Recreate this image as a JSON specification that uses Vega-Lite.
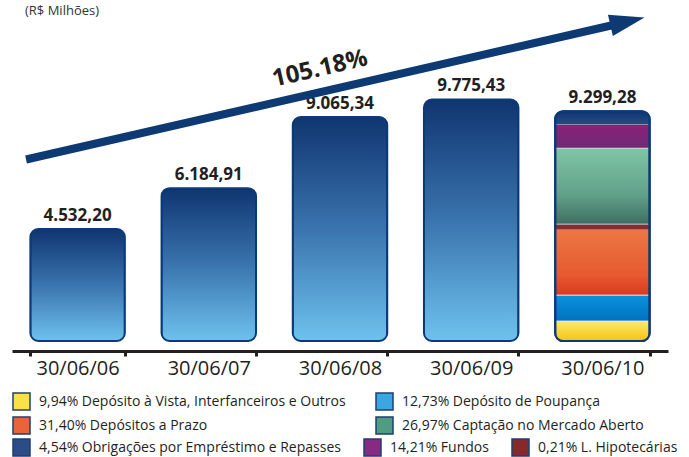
{
  "$schema": "https://vega.github.io/schema/vega-lite/v6.json",
  "width": 656,
  "height": 336,
  "autosize": {"type": "none"},
  "padding": {"left": 12, "top": 5, "right": 21, "bottom": 116},
  "background": "white",
  "config": {
    "view": {"stroke": null},
    "font": "Open Sans",
    "legend": {
      "orient": "none",
      "title": null,
      "labelFont": "Open Sans",
      "labelFontSize": 14,
      "labelColor": "#231f20",
      "labelLimit": 400,
      "symbolType": "square",
      "symbolSize": 289,
      "symbolStrokeColor": "#1f3f70",
      "symbolStrokeWidth": 1.5,
      "symbolOpacity": 1,
      "labelOffset": 8,
      "rowPadding": 1,
      "padding": 0
    }
  },
  "title": {
    "text": "(R$ Milhões)",
    "anchor": "start",
    "frame": "group",
    "orient": "top",
    "baseline": "alphabetic",
    "offset": 0,
    "dy": 23,
    "dx": 13,
    "fontSize": 13,
    "fontWeight": "normal",
    "font": "Open Sans",
    "color": "#333333"
  },
  "datasets": {
    "totals": [
      {"date": "30/06/06", "value": 4532.20, "label": "4.532,20"},
      {"date": "30/06/07", "value": 6184.91, "label": "6.184,91"},
      {"date": "30/06/08", "value": 9065.34, "label": "9.065,34"},
      {"date": "30/06/09", "value": 9775.43, "label": "9.775,43"},
      {"date": "30/06/10", "value": 9299.28, "label": "9.299,28"}
    ],
    "segs": [
      {"date": "30/06/10", "cat": "vista", "order": 1, "value": 809},
      {"date": "30/06/10", "cat": "poupanca", "order": 2, "value": 1051},
      {"date": "30/06/10", "cat": "prazo", "order": 3, "value": 2668},
      {"date": "30/06/10", "cat": "hipotecarias", "order": 4, "value": 202},
      {"date": "30/06/10", "cat": "captacao", "order": 5, "value": 3073},
      {"date": "30/06/10", "cat": "fundos", "order": 6, "value": 970},
      {"date": "30/06/10", "cat": "obrigacoes", "order": 7, "value": 526}
    ],
    "arrow": [
      {"x1": 0.107, "y1": 7346, "x2": 4.6, "y2": 12810, "hx": 4.691, "hy": 12932, "tx": 2.348, "ty": 11010, "label": "105.18%"}
    ],
    "legA": [
      {"cat": "9,94% Depósito à Vista, Interfanceiros e Outros"},
      {"cat": "31,40% Depósitos a Prazo"},
      {"cat": "12,73% Depósito de Poupança"},
      {"cat": "26,97% Captação no Mercado Aberto"}
    ],
    "legB": [
      {"cat": "4,54% Obrigações por Empréstimo e Repasses"},
      {"cat": "14,21% Fundos"},
      {"cat": "0,21% L. Hipotecárias"}
    ]
  },
  "resolve": {"scale": {"x": "independent"}, "axis": {"x": "independent"}},
  "layer": [
    {
      "encoding": {
        "x": {
          "field": "date",
          "type": "nominal",
          "sort": null,
          "scale": {"domain": ["30/06/06", "30/06/07", "30/06/08", "30/06/09", "30/06/10"], "paddingInner": 0.28, "paddingOuter": 0.14},
          "axis": {
            "title": null,
            "labelAngle": 0,
            "labelFont": "Open Sans",
            "labelFontSize": 20,
            "labelColor": "#231f20",
            "labelPadding": 2,
            "domainColor": "#231f20",
            "domainWidth": 3,
            "tickColor": "#231f20",
            "tickWidth": 3,
            "tickSize": 5,
            "tickBand": "extent",
            "offset": 10,
            "grid": false
          }
        }
      },
      "layer": [
        {
          "data": {"name": "totals"},
          "mark": {
            "type": "bar",
            "cornerRadius": 8,
            "stroke": "#0b3a78",
            "strokeWidth": 2,
            "fill": {"gradient": "linear", "x1": 0, "y1": 0, "x2": 0, "y2": 1, "stops": [
              {"offset": 0, "color": "#0f3570"},
              {"offset": 0.5, "color": "#3a74ae"},
              {"offset": 1, "color": "#6ec2ee"}
            ]}
          },
          "encoding": {
            "y": {"field": "value", "type": "quantitative", "scale": {"domain": [0, 13600], "nice": false}, "axis": null}
          }
        },
        {
          "data": {"name": "segs"},
          "transform": [
            {"stack": "value", "groupby": ["date"], "sort": [{"field": "order"}], "as": ["v0", "v1"]},
            {"filter": "datum.order == 1"}
          ],
          "mark": {"type": "bar", "cornerRadiusBottomLeft": 8, "cornerRadiusBottomRight": 8, "stroke": "#e8e8e8", "strokeWidth": 0.8,
            "fill": {"gradient": "linear", "x1": 0, "y1": 0, "x2": 0, "y2": 1, "stops": [{"offset": 0, "color": "#fde96c"}, {"offset": 1, "color": "#f6c313"}]}},
          "encoding": {"y": {"field": "v0", "type": "quantitative"}, "y2": {"field": "v1"}}
        },
        {
          "data": {"name": "segs"},
          "transform": [
            {"stack": "value", "groupby": ["date"], "sort": [{"field": "order"}], "as": ["v0", "v1"]},
            {"filter": "datum.order == 2"}
          ],
          "mark": {"type": "bar", "stroke": "#e8e8e8", "strokeWidth": 0.8,
            "fill": {"gradient": "linear", "x1": 0, "y1": 0, "x2": 0, "y2": 1, "stops": [{"offset": 0, "color": "#0a92dc"}, {"offset": 1, "color": "#0072bf"}]}},
          "encoding": {"y": {"field": "v0", "type": "quantitative"}, "y2": {"field": "v1"}}
        },
        {
          "data": {"name": "segs"},
          "transform": [
            {"stack": "value", "groupby": ["date"], "sort": [{"field": "order"}], "as": ["v0", "v1"]},
            {"filter": "datum.order == 3"}
          ],
          "mark": {"type": "bar", "stroke": "#e8e8e8", "strokeWidth": 0.8,
            "fill": {"gradient": "linear", "x1": 0, "y1": 0, "x2": 0, "y2": 1, "stops": [{"offset": 0, "color": "#ec7744"}, {"offset": 0.7, "color": "#e65a30"}, {"offset": 1, "color": "#dc3820"}]}},
          "encoding": {"y": {"field": "v0", "type": "quantitative"}, "y2": {"field": "v1"}}
        },
        {
          "data": {"name": "segs"},
          "transform": [
            {"stack": "value", "groupby": ["date"], "sort": [{"field": "order"}], "as": ["v0", "v1"]},
            {"filter": "datum.order == 4"}
          ],
          "mark": {"type": "bar", "fill": "#8a2b2c", "stroke": "#8a2b2c", "strokeWidth": 0.5},
          "encoding": {"y": {"field": "v0", "type": "quantitative"}, "y2": {"field": "v1"}}
        },
        {
          "data": {"name": "segs"},
          "transform": [
            {"stack": "value", "groupby": ["date"], "sort": [{"field": "order"}], "as": ["v0", "v1"]},
            {"filter": "datum.order == 5"}
          ],
          "mark": {"type": "bar", "stroke": "#e8e8e8", "strokeWidth": 0.8,
            "fill": {"gradient": "linear", "x1": 0, "y1": 0, "x2": 0, "y2": 1, "stops": [{"offset": 0, "color": "#7fc6a6"}, {"offset": 0.6, "color": "#62a28a"}, {"offset": 1, "color": "#3d6f62"}]}},
          "encoding": {"y": {"field": "v0", "type": "quantitative"}, "y2": {"field": "v1"}}
        },
        {
          "data": {"name": "segs"},
          "transform": [
            {"stack": "value", "groupby": ["date"], "sort": [{"field": "order"}], "as": ["v0", "v1"]},
            {"filter": "datum.order == 6"}
          ],
          "mark": {"type": "bar", "stroke": "#e8e8e8", "strokeWidth": 0.8,
            "fill": {"gradient": "linear", "x1": 0, "y1": 0, "x2": 0, "y2": 1, "stops": [{"offset": 0, "color": "#8c1f7a"}, {"offset": 1, "color": "#6f2c74"}]}},
          "encoding": {"y": {"field": "v0", "type": "quantitative"}, "y2": {"field": "v1"}}
        },
        {
          "data": {"name": "segs"},
          "transform": [
            {"stack": "value", "groupby": ["date"], "sort": [{"field": "order"}], "as": ["v0", "v1"]},
            {"filter": "datum.order == 7"}
          ],
          "mark": {"type": "bar", "cornerRadiusTopLeft": 8, "cornerRadiusTopRight": 8,
            "fill": {"gradient": "linear", "x1": 0, "y1": 0, "x2": 0, "y2": 1, "stops": [{"offset": 0, "color": "#0f3570"}, {"offset": 1, "color": "#234d86"}]}},
          "encoding": {"y": {"field": "v0", "type": "quantitative"}, "y2": {"field": "v1"}}
        },
        {
          "data": {"name": "totals"},
          "transform": [{"filter": "datum.date == '30/06/10'"}],
          "mark": {"type": "bar", "cornerRadius": 8, "fillOpacity": 0, "stroke": "#0b3a78", "strokeWidth": 2.2},
          "encoding": {"y": {"field": "value", "type": "quantitative"}}
        },
        {
          "data": {"name": "totals"},
          "mark": {"type": "text", "baseline": "alphabetic", "dy": -8, "font": "Open Sans", "fontSize": 17, "fontWeight": "bold", "color": "#231f20"},
          "encoding": {"y": {"field": "value", "type": "quantitative"}, "text": {"field": "label"}}
        },
        {
          "data": {"name": "legA"},
          "mark": {"type": "point", "filled": true, "size": 0, "strokeWidth": 0, "shape": "square"},
          "encoding": {
            "fill": {
              "field": "cat",
              "type": "nominal",
              "scale": {
                "domain": ["9,94% Depósito à Vista, Interfanceiros e Outros", "31,40% Depósitos a Prazo", "12,73% Depósito de Poupança", "26,97% Captação no Mercado Aberto"],
                "range": ["#fbe04a", "#e8643c", "#3aa6e2", "#4f9c83"]
              },
              "legend": {"columns": 2, "legendX": 0, "legendY": 387, "columnPadding": 27}
            }
          }
        },
        {
          "data": {"name": "legB"},
          "mark": {"type": "point", "filled": true, "size": 0, "strokeWidth": 0, "shape": "square"},
          "encoding": {
            "color": {
              "field": "cat",
              "type": "nominal",
              "scale": {
                "domain": ["4,54% Obrigações por Empréstimo e Repasses", "14,21% Fundos", "0,21% L. Hipotecárias"],
                "range": ["#2b4c86", "#862a82", "#86292b"]
              },
              "legend": {"columns": 3, "legendX": 0, "legendY": 433, "columnPadding": 20}
            }
          }
        }
      ]
    },
    {
      "data": {"name": "arrow"},
      "encoding": {
        "x": {"field": "x1", "type": "quantitative", "scale": {"domain": [0, 5], "nice": false, "zero": false}, "axis": null}
      },
      "layer": [
        {
          "mark": {"type": "rule", "color": "#0d3a73", "strokeWidth": 8, "strokeCap": "butt"},
          "encoding": {
            "x": {"field": "x1", "type": "quantitative"},
            "x2": {"field": "x2"},
            "y": {"field": "y1", "type": "quantitative", "scale": {"domain": [0, 13600], "nice": false}, "axis": null},
            "y2": {"field": "y2"}
          }
        },
        {
          "mark": {"type": "point", "shape": "M-1,-0.62L1,0L-1,0.62Z", "size": 1225, "filled": true, "color": "#0d3a73", "opacity": 1, "angle": 347, "strokeWidth": 0},
          "encoding": {
            "x": {"field": "hx", "type": "quantitative"},
            "y": {"field": "hy", "type": "quantitative"}
          }
        },
        {
          "mark": {"type": "text", "angle": 347, "font": "Open Sans", "fontSize": 24, "fontWeight": "bold", "color": "#231f20", "align": "center", "baseline": "middle"},
          "encoding": {
            "x": {"field": "tx", "type": "quantitative"},
            "y": {"field": "ty", "type": "quantitative"},
            "text": {"field": "label"}
          }
        }
      ]
    }
  ]
}
